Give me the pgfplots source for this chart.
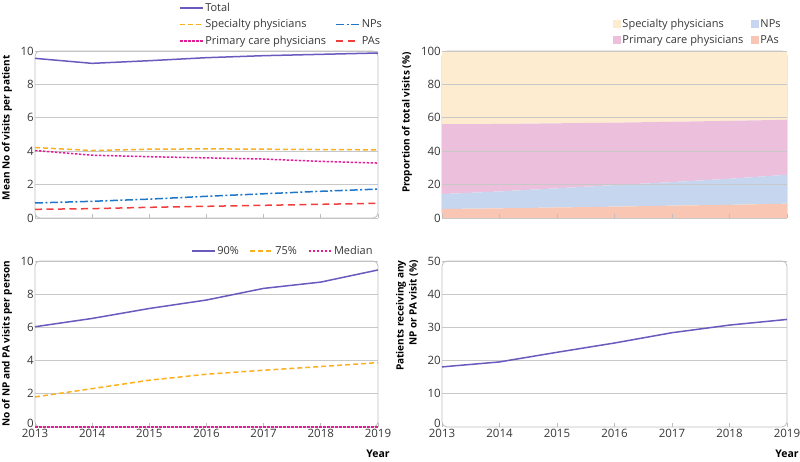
\documentclass[border=0pt]{standalone}
\usepackage{fontspec}
\setmainfont{Open Sans}
\usepackage{pgfplots}
\pgfplotsset{compat=1.18}
\definecolor{cTotal}{RGB}{106,90,190}
\definecolor{cSpec}{RGB}{251,176,30}
\definecolor{cPrim}{RGB}{226,30,150}
\definecolor{cNP}{RGB}{30,118,200}
\definecolor{cPA}{RGB}{240,62,62}
\definecolor{aSpec}{RGB}{253,236,207}
\definecolor{aPrim}{RGB}{236,192,220}
\definecolor{aNP}{RGB}{198,214,238}
\definecolor{aPA}{RGB}{248,198,178}
\definecolor{gridc}{RGB}{200,200,200}
\definecolor{framec}{RGB}{190,190,190}
\definecolor{tickc}{RGB}{55,55,55}
\tikzset{
  frame/.style={framec, line width=0.8pt, rounded corners=5pt},
  lTotal/.style={draw=cTotal, line width=1.5pt, solid},
  lSpec/.style={draw=cSpec, line width=1.5pt, dash pattern=on 5pt off 3pt},
  lPrim/.style={draw=cPrim, line width=1.5pt, dash pattern=on 2.5pt off 1.5pt},
  lNP/.style={draw=cNP, line width=1.5pt, dash pattern=on 8pt off 2.5pt on 2pt off 2.5pt},
  lPA/.style={draw=cPA, line width=1.5pt, dash pattern=on 7pt off 4.5pt},
  ylab/.style={rotate=90, anchor=east, font=\bfseries\fontsize{10}{13}\selectfont, text=black},
}
\pgfplotsset{
  panel/.style={
    scale only axis, anchor=south west, clip=false,
    xmin=2013, xmax=2019, xtick={2013,2014,...,2019},
    axis line style={draw=none},
    ymajorgrids, grid style={gridc, line width=0.7pt},
    major tick length=4pt, tick align=inside,
    xtick pos=bottom, ytick pos=left,
    xtick style={framec, line width=0.7pt},
    ytick style={draw=none},
    tick label style={font=\fontsize{11.5}{13}\selectfont, text=tickc},
    /pgf/number format/assume math mode=true,
    /pgf/number format/1000 sep={},
    yticklabel style={inner sep=1pt},
    xticklabel style={inner sep=2pt},
    legend style={draw=none, fill=none, inner sep=0pt, font=\fontsize{11}{13}\selectfont,
      nodes={inner sep=1.5pt, text=tickc}, row sep=3.5pt},
    legend cell align=left,
    legend image code/.code={\draw[##1] (0pt,0pt) -- (23pt,0pt);},
  },
  arealeg/.style={legend image code/.code={\fill[##1] (0pt,-4pt) rectangle (8pt,4pt);}},
  lowzero/.style={ytick={#1}, extra y ticks={0}, extra y tick style={grid=none, yticklabel style={yshift=4pt}}},
}
\begin{document}
\begin{tikzpicture}[x=1pt,y=1pt]
\path[use as bounding box] (0,0) rectangle (800,461);
% ---------- top left
\begin{axis}[panel, at={(35pt,243pt)}, width=343pt, height=167pt,
  ymin=0, ymax=10, ytick={0,2,...,10}, xticklabels={},
  legend columns=2,
  legend style={at={(0.42,1.296)}, anchor=north west, /tikz/every even column/.append style={column sep=8pt}}]
\draw[frame] (rel axis cs:0,0) rectangle (rel axis cs:1,1);
\addplot[lTotal] coordinates {(2013,9.56) (2014,9.26) (2015,9.42) (2016,9.6) (2017,9.72) (2018,9.8) (2019,9.88)};
\addlegendentry{Total}
\addlegendimage{empty legend}\addlegendentry{}
\addplot[lSpec] coordinates {(2013,4.22) (2014,4.04) (2015,4.12) (2016,4.14) (2017,4.12) (2018,4.1) (2019,4.08)};
\addlegendentry{Specialty physicians}
\addplot[lNP] coordinates {(2013,0.9) (2014,1.0) (2015,1.13) (2016,1.3) (2017,1.45) (2018,1.6) (2019,1.73)};
\addlegendentry{NPs}
\addplot[lPrim] coordinates {(2013,4.04) (2014,3.76) (2015,3.67) (2016,3.6) (2017,3.53) (2018,3.39) (2019,3.29)};
\addlegendentry{Primary care physicians}
\addplot[lPA] coordinates {(2013,0.52) (2014,0.56) (2015,0.64) (2016,0.7) (2017,0.76) (2018,0.82) (2019,0.88)};
\addlegendentry{PAs}
\end{axis}
% ---------- top right
\begin{axis}[panel, arealeg, at={(442pt,243pt)}, width=345pt, height=167pt,
  ymin=0, ymax=100, ytick={0,20,...,100}, xticklabels={}, axis on top,
  stack plots=y,
  legend columns=2,
  legend style={at={(0.495,1.201)}, anchor=north west, /tikz/every even column/.append style={column sep=6pt}}]
\addplot[fill=aPA, draw=none, forget plot] coordinates {(2013,5.4) (2014,5.8) (2015,6.3) (2016,6.8) (2017,7.4) (2018,7.9) (2019,8.6)} \closedcycle;
\addplot[fill=aNP, draw=none, forget plot] coordinates {(2013,8.9) (2014,10.1) (2015,11.5) (2016,12.9) (2017,14.1) (2018,15.6) (2019,17.3)} \closedcycle;
\addplot[fill=aPrim, draw=none, forget plot] coordinates {(2013,41.9) (2014,40.4) (2015,38.9) (2016,37.4) (2017,36.1) (2018,34.7) (2019,32.9)} \closedcycle;
\addplot[fill=aSpec, draw=none, forget plot] coordinates {(2013,43.8) (2014,43.7) (2015,43.3) (2016,42.9) (2017,42.4) (2018,41.8) (2019,41.2)} \closedcycle;
\draw[frame] (rel axis cs:0,0) rectangle (rel axis cs:1,1);
\addlegendimage{fill=aSpec, draw=none}\addlegendentry{Specialty physicians}
\addlegendimage{fill=aNP, draw=none}\addlegendentry{NPs}
\addlegendimage{fill=aPrim, draw=none}\addlegendentry{Primary care physicians}
\addlegendimage{fill=aPA, draw=none}\addlegendentry{PAs}
\end{axis}
% ---------- bottom left
\begin{axis}[panel, lowzero={2,4,...,10}, at={(35pt,34pt)}, width=343pt, height=166pt,
  ymin=0, ymax=10,
  legend columns=3,
  legend style={at={(0.455,1.099)}, anchor=north west, /tikz/every even column/.append style={column sep=9pt}}]
\draw[frame] (rel axis cs:0,0) rectangle (rel axis cs:1,1);
\addplot[lTotal] coordinates {(2013,6.04) (2014,6.54) (2015,7.14) (2016,7.65) (2017,8.35) (2018,8.73) (2019,9.46)};
\addlegendentry{90\%}
\addplot[lSpec] coordinates {(2013,1.81) (2014,2.31) (2015,2.82) (2016,3.18) (2017,3.42) (2018,3.64) (2019,3.88)};
\addlegendentry{75\%}
\addplot[lPrim, line width=2pt] coordinates {(2013,0) (2014,0) (2015,0) (2016,0) (2017,0) (2018,0) (2019,0)};
\addlegendentry{Median}
\end{axis}
% ---------- bottom right
\begin{axis}[panel, lowzero={10,20,...,50}, at={(442pt,34pt)}, width=345pt, height=166pt,
  ymin=0, ymax=50]
\draw[frame] (rel axis cs:0,0) rectangle (rel axis cs:1,1);
\addplot[lTotal] coordinates {(2013,18.1) (2014,19.6) (2015,22.5) (2016,25.3) (2017,28.4) (2018,30.7) (2019,32.4)};
\end{axis}
% ---------- labels
\node[ylab] at (7,409) {Mean No of visits per patient};
\node[ylab] at (407,412) {Proportion of total visits (\%)};
\node[ylab] at (7,204) {No of NP and PA visits per person};
\node[ylab, align=right] at (407,204) {Patients receiving any\\NP or PA visit (\%)};
\node[font=\bfseries\fontsize{10.5}{12}\selectfont] at (378,7) {Year};
\node[font=\bfseries\fontsize{10.5}{12}\selectfont] at (787,7) {Year};
\end{tikzpicture}
\end{document}
